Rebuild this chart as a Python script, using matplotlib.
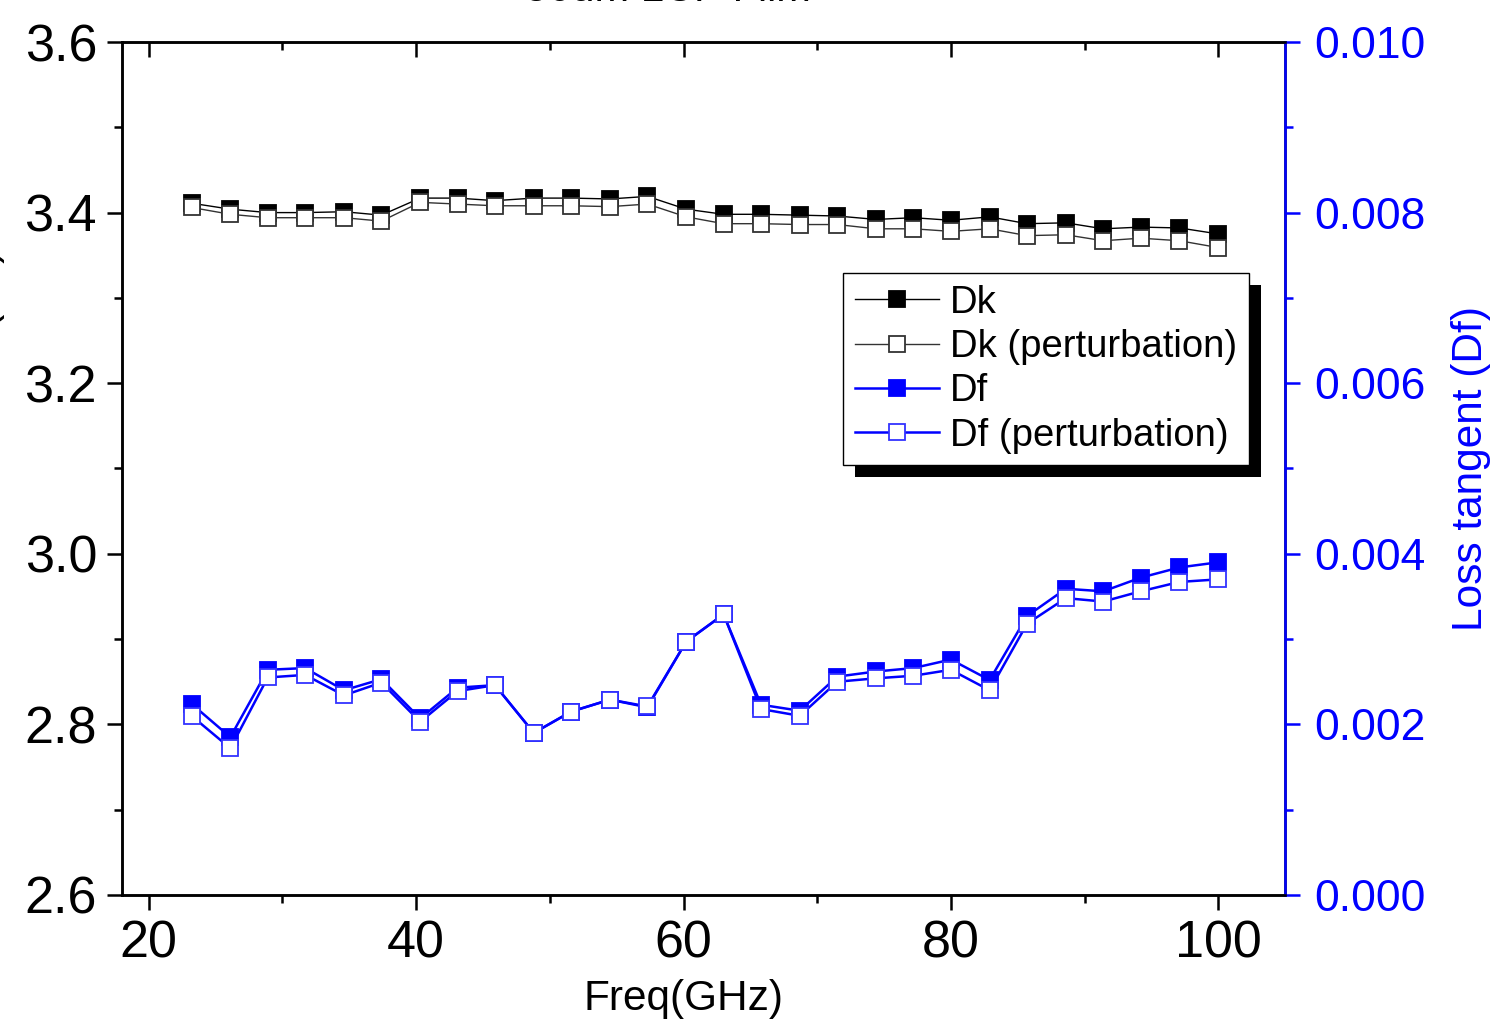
import matplotlib
matplotlib.use("Agg")
import matplotlib.pyplot as plt
from matplotlib.patches import Rectangle
from matplotlib.ticker import MultipleLocator

plt.rcParams['font.family'] = ['Liberation Sans', 'DejaVu Sans']

# data
freq = [23.2, 26.1, 28.9, 31.7, 34.6, 37.4, 40.3, 43.1, 45.9, 48.8, 51.6, 54.5, 57.3, 60.2,
        63.0, 65.8, 68.7, 71.5, 74.4, 77.2, 80.0, 82.9, 85.7, 88.6, 91.4, 94.2, 97.1, 100.0]
dk = [3.411, 3.404, 3.400, 3.400, 3.401, 3.397, 3.417, 3.417, 3.414, 3.417, 3.417, 3.416, 3.419, 3.404,
      3.398, 3.398, 3.397, 3.396, 3.392, 3.394, 3.391, 3.395, 3.387, 3.388, 3.381, 3.383, 3.382, 3.375]
dk_pert = [3.406, 3.398, 3.394, 3.394, 3.394, 3.390, 3.412, 3.410, 3.408, 3.408, 3.408, 3.407, 3.410, 3.395,
           3.387, 3.387, 3.386, 3.386, 3.381, 3.381, 3.378, 3.381, 3.373, 3.374, 3.367, 3.370, 3.367, 3.359]
df = [0.00224, 0.00185, 0.00264, 0.00266, 0.00240, 0.00253, 0.00207, 0.00243, 0.00246, 0.00190,
      0.00215, 0.00229, 0.00220, 0.00297, 0.00329, 0.00223, 0.00216, 0.00256, 0.00262, 0.00266,
      0.00276, 0.00252, 0.00327, 0.00359, 0.00356, 0.00372, 0.00384, 0.00390]
df_pert = [0.00210, 0.00172, 0.00255, 0.00258, 0.00234, 0.00249, 0.00203, 0.00239, 0.00246, 0.00190,
           0.00215, 0.00229, 0.00221, 0.00297, 0.00329, 0.00218, 0.00210, 0.00250, 0.00254, 0.00257,
           0.00264, 0.00240, 0.00318, 0.00348, 0.00344, 0.00356, 0.00367, 0.00370]

fig = plt.figure(figsize=(14.92, 10.22), dpi=100)
ax = fig.add_axes([0.0818, 0.1243, 0.7795, 0.8346])
ax2 = ax.twinx()

ms = 11
h1, = ax.plot(freq, dk, color='black', lw=1.0, marker='s', ms=ms, mfc='black', mec='black', mew=1.3, label='Dk')
h2, = ax.plot(freq, dk_pert, color='#333333', lw=1.0, marker='s', ms=ms, mfc='white', mec='#333333', mew=1.3,
              label='Dk (perturbation)')
h3, = ax2.plot(freq, df, color='blue', lw=1.8, marker='s', ms=ms, mfc='blue', mec='blue', mew=1.3, label='Df')
h4, = ax2.plot(freq, df_pert, color='blue', lw=1.8, marker='s', ms=ms, mfc='white', mec='#3333ff', mew=1.3,
               label='Df (perturbation)')

ax.set_xlim(18, 105)
ax.set_ylim(2.6, 3.6)
ax2.set_ylim(0.0, 0.010)

ax.xaxis.set_major_locator(MultipleLocator(20))
ax.xaxis.set_minor_locator(MultipleLocator(10))
ax.yaxis.set_major_locator(MultipleLocator(0.2))
ax.yaxis.set_minor_locator(MultipleLocator(0.1))
ax2.yaxis.set_major_locator(MultipleLocator(0.002))
ax2.yaxis.set_minor_locator(MultipleLocator(0.001))
ax.yaxis.set_major_formatter(plt.FormatStrFormatter('%.1f'))
ax2.yaxis.set_major_formatter(plt.FormatStrFormatter('%.3f'))

for s in ax.spines.values():
    s.set_linewidth(1.8)
for s in ax2.spines.values():
    s.set_linewidth(1.8)
ax2.spines['right'].set_color('blue')

ax.tick_params(axis='both', which='major', labelsize=37.5, length=11, width=1.8, direction='out', pad=7)
ax.tick_params(axis='both', which='minor', length=6, width=1.8, direction='out')
ax.tick_params(axis='x', which='both', top=True, bottom=True)
ax2.tick_params(axis='y', which='major', labelsize=32, length=11, width=1.8, colors='blue', pad=10)
ax2.tick_params(axis='y', which='minor', length=6, width=1.8, colors='blue')

# top ticks point inward
for t in ax.xaxis.get_major_ticks() + ax.xaxis.get_minor_ticks():
    t.tick2line.set_marker(3)

ax.set_xlabel('Freq(GHz)', fontsize=30.5)
ax.xaxis.label.set_va('top')
ax.xaxis.set_label_coords(60, -0.098, transform=ax.get_xaxis_transform())
ax2.set_ylabel('Loss tangent (Df)', fontsize=30.5, color='blue', labelpad=18)
fig.text(5 / 1492, 0.542, 'Dielectric Constant (Dk)', fontsize=30, rotation=90, ha='right', va='center')
fig.text(668 / 1492, 0.999, '50um LCP Film', fontsize=30, ha='center', va='baseline')

leg = ax2.legend(handles=[h1, h2, h3, h4], loc='upper left', bbox_to_anchor=(0.620, 0.729), borderaxespad=0,
                 fontsize=27.5, frameon=True, fancybox=False, framealpha=1, edgecolor='black',
                 handlelength=2.2, handletextpad=0.3, labelspacing=0.22, borderpad=0.3)
leg.get_frame().set_linewidth(1.0)
leg.set_zorder(10)

fig.canvas.draw()
bb = leg.get_window_extent()
shadow = Rectangle((bb.x0 + 12, bb.y0 - 12), bb.width, bb.height, transform=None,
                   facecolor='black', edgecolor='none', zorder=9, clip_on=False)
ax2.add_artist(shadow)

fig.savefig('out.png', dpi=100)
